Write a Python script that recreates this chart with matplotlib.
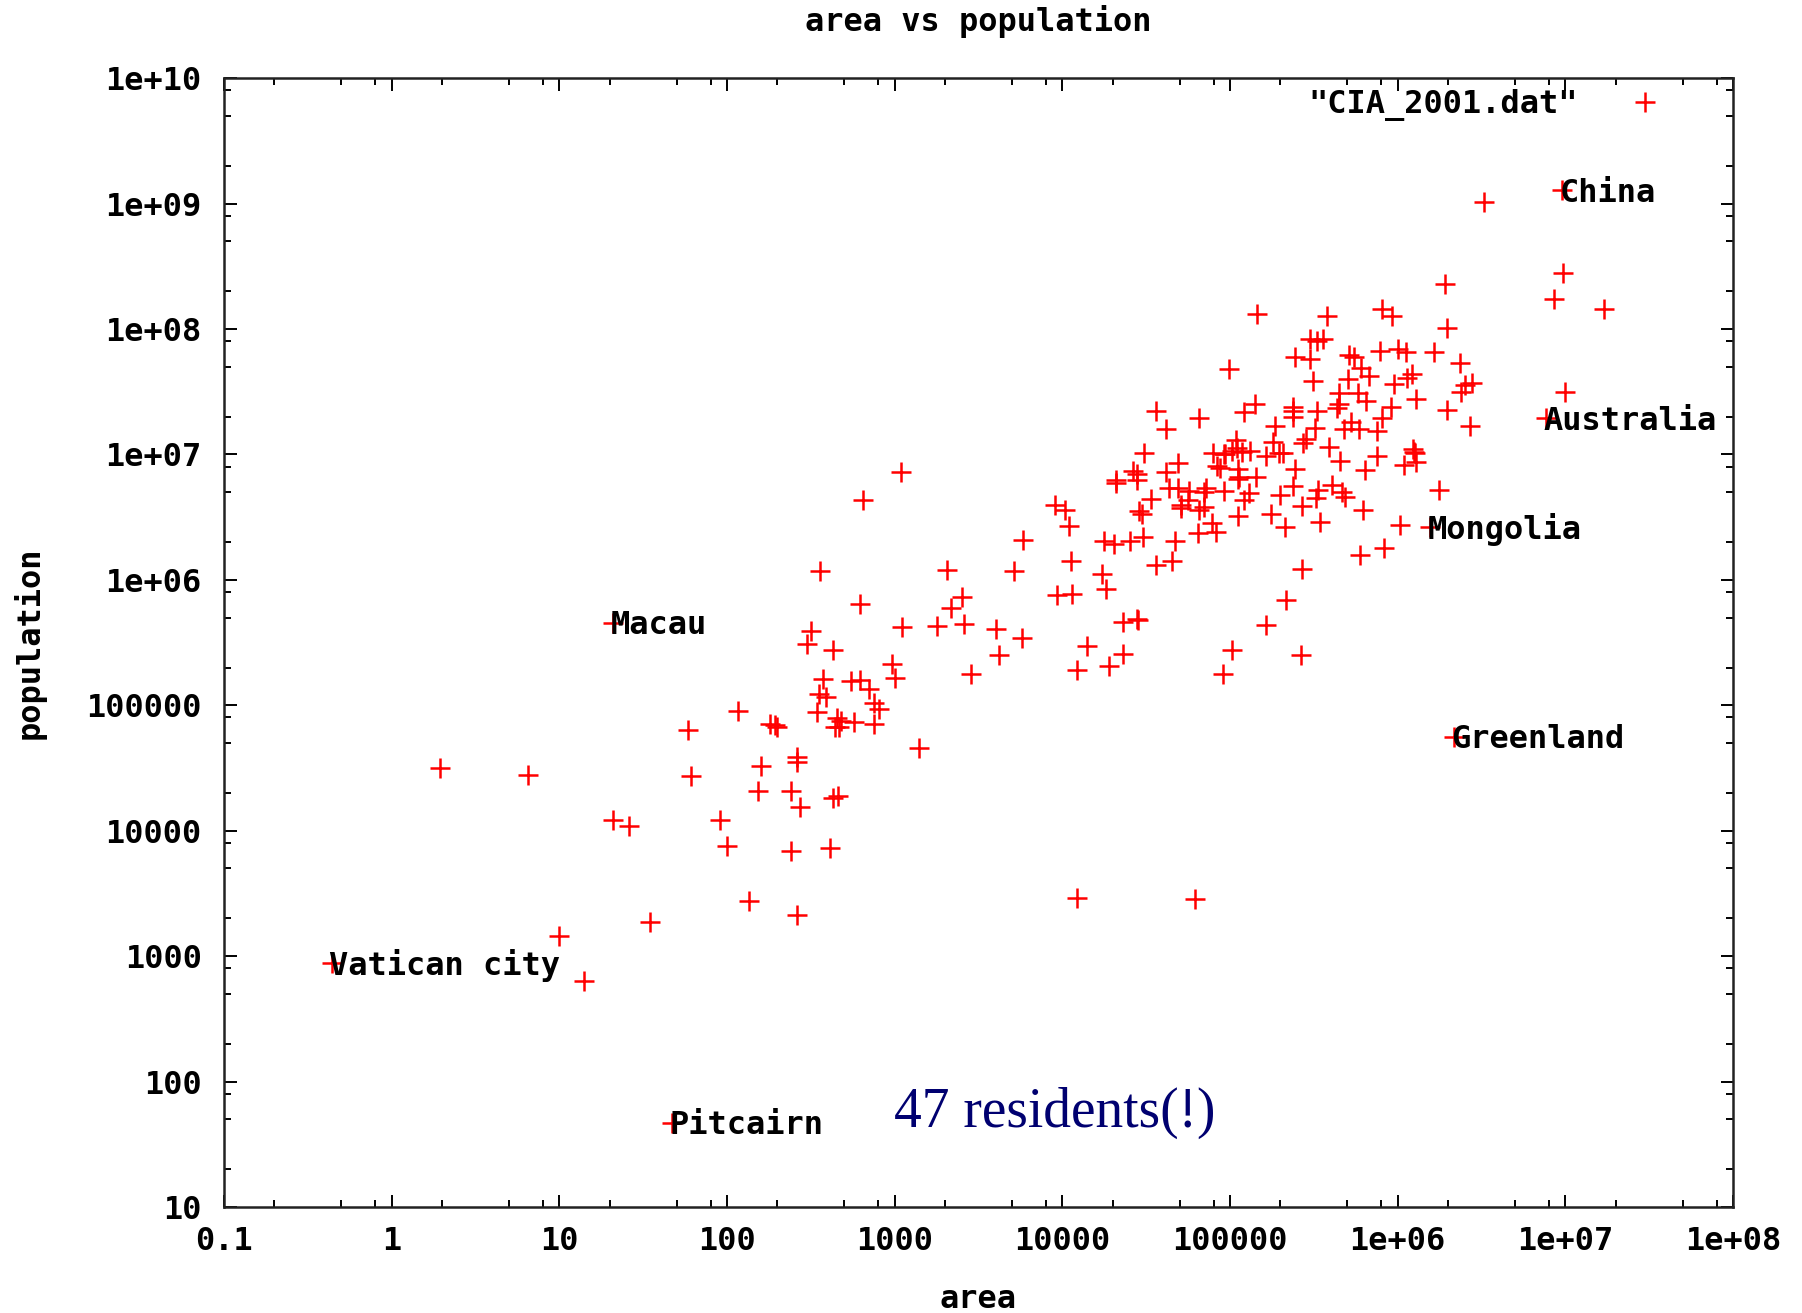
"""Area vs population scatter (CIA World Factbook 2001), gnuplot look."""

import matplotlib
matplotlib.use("Agg")
import matplotlib.pyplot as plt
from matplotlib.ticker import FixedLocator, FuncFormatter

countries = [
    "Afghanistan", "Albania", "Algeria", "American Samoa", "Andorra", "Angola",
    "Anguilla", "Antigua and Barbuda", "Argentina", "Armenia", "Aruba", "Australia",
    "Austria", "Azerbaijan", "Bahamas", "Bahrain", "Bangladesh", "Barbados",
    "Belarus", "Belgium", "Belize", "Benin", "Bermuda", "Bhutan",
    "Bolivia", "Bosnia", "Botswana", "Brazil", "British Virgin Islands", "Brunei",
    "Bulgaria", "Burkina Faso", "Burma", "Burundi", "Cambodia", "Cameroon",
    "Canada", "Cape Verde", "Cayman Islands", "Central African Rep.", "Chad", "Chile",
    "China", "Christmas Island", "Cocos Islands", "Colombia", "Comoros", "Congo DR",
    "Congo Rep.", "Cook Islands", "Costa Rica", "Cote d'Ivoire", "Croatia", "Cuba",
    "Cyprus", "Czech Republic", "Denmark", "Djibouti", "Dominica", "Dominican Rep.",
    "Ecuador", "Egypt", "El Salvador", "Equatorial Guinea", "Eritrea", "Estonia",
    "Ethiopia", "Falkland Islands", "Faroe Islands", "Fiji", "Finland", "France",
    "French Guiana", "French Polynesia", "Gabon", "Gambia", "Gaza Strip", "Georgia",
    "Germany", "Ghana", "Gibraltar", "Greece", "Greenland", "Grenada",
    "Guadeloupe", "Guam", "Guatemala", "Guinea", "Guinea-Bissau", "Guyana",
    "Haiti", "Honduras", "Hong Kong", "Hungary", "Iceland", "India",
    "Indonesia", "Iran", "Iraq", "Ireland", "Isle of Man", "Israel",
    "Italy", "Jamaica", "Japan", "Jersey", "Jordan", "Kazakhstan",
    "Kenya", "Kiribati", "Korea North", "Korea South", "Kuwait", "Kyrgyzstan",
    "Laos", "Latvia", "Lebanon", "Lesotho", "Liberia", "Libya",
    "Liechtenstein", "Lithuania", "Luxembourg", "Macau", "Macedonia", "Madagascar",
    "Malawi", "Malaysia", "Maldives", "Mali", "Malta", "Marshall Islands",
    "Martinique", "Mauritania", "Mauritius", "Mayotte", "Mexico", "Micronesia",
    "Moldova", "Monaco", "Mongolia", "Montserrat", "Morocco", "Mozambique",
    "Namibia", "Nauru", "Nepal", "Netherlands", "Netherlands Antilles", "New Caledonia",
    "New Zealand", "Nicaragua", "Niger", "Nigeria", "Niue", "Norfolk Island",
    "Northern Mariana Islands", "Norway", "Oman", "Pakistan", "Palau", "Panama",
    "Papua New Guinea", "Paraguay", "Peru", "Philippines", "Pitcairn", "Poland",
    "Portugal", "Puerto Rico", "Qatar", "Reunion", "Romania", "Russia",
    "Rwanda", "Saint Helena", "Saint Kitts and Nevis", "Saint Lucia", "Saint Pierre", "Saint Vincent",
    "Samoa", "San Marino", "Sao Tome", "Saudi Arabia", "Senegal", "Seychelles",
    "Sierra Leone", "Singapore", "Slovakia", "Slovenia", "Solomon Islands", "Somalia",
    "South Africa", "Spain", "Sri Lanka", "Sudan", "Suriname", "Svalbard",
    "Swaziland", "Sweden", "Switzerland", "Syria", "Taiwan", "Tajikistan",
    "Tanzania", "Thailand", "Togo", "Tokelau", "Tonga", "Trinidad and Tobago",
    "Tunisia", "Turkey", "Turkmenistan", "Turks and Caicos", "Tuvalu", "Uganda",
    "Ukraine", "United Arab Emirates", "United Kingdom", "United States", "Uruguay", "Uzbekistan",
    "Vanuatu", "Vatican city", "Venezuela", "Vietnam", "Virgin Islands", "Wallis and Futuna",
    "West Bank", "Western Sahara", "Yemen", "Yugoslavia", "Zambia", "Zimbabwe",
]

# area in km^2
area = [
    647500, 28748, 2381740, 199, 468, 1246700,
    91, 442, 2766890, 29800, 193, 7686850,
    83858, 86600, 13940, 620, 144000, 430,
    207600, 30510, 22966, 112620, 58.8, 47000,
    1098580, 51129, 600370, 8511965, 153, 5770,
    110910, 274200, 678500, 27830, 181040, 475440,
    9976140, 4033, 262, 622984, 1284000, 756950,
    9596960, 135, 14, 1138910, 2170, 2345410,
    342000, 240, 51100, 322460, 56542, 110860,
    9250, 78866, 43094, 23000, 754, 48730,
    283560, 1001450, 21040, 28051, 121320, 45226,
    1127127, 12173, 1399, 18270, 337030, 547030,
    91000, 4167, 267667, 11300, 360, 69700,
    357021, 238540, 6.5, 131940, 2166086, 344,
    1780, 549, 108890, 245857, 36120, 214970,
    27750, 112090, 1092, 93030, 103000, 3287590,
    1919440, 1648000, 437072, 70280, 572, 20770,
    301230, 10991, 377835, 116, 92300, 2717300,
    582650, 811, 120540, 98480, 17820, 198500,
    236800, 64589, 10400, 30355, 111370, 1759540,
    160, 65200, 2586, 21, 25333, 587040,
    118480, 329750, 300, 1240000, 316, 181.3,
    1100, 1030700, 2040, 374, 1972550, 702,
    33843, 1.95, 1565000, 100, 446550, 801590,
    825418, 21, 140800, 41526, 960, 19060,
    268680, 129494, 1267000, 923768, 260, 34.6,
    477, 324220, 212460, 803940, 458, 78200,
    462840, 406750, 1285220, 300000, 47, 312685,
    92391, 9104, 11437, 2512, 237500, 17075200,
    26338, 410, 261, 620, 242, 389,
    2860, 61.2, 1001, 1960582, 196190, 455,
    71740, 647.5, 48845, 20273, 28450, 637657,
    1219912, 504782, 65610, 2505810, 163270, 62049,
    17363, 449964, 41290, 185180, 35980, 143100,
    945087, 514000, 56785, 10, 748, 5128,
    163610, 780580, 488100, 430, 26, 236040,
    603700, 82880, 244820, 9629091, 176220, 447400,
    12200, 0.44, 912050, 329560, 352, 274,
    5860, 266000, 527970, 102350, 752614, 390580,
]

population = [
    26813057, 3510484, 31736053, 67084, 67627, 10366031,
    12132, 66970, 37384816, 3336100, 70007, 19357594,
    8150835, 7771092, 297852, 645361, 131269860, 275330,
    10350194, 10258762, 256062, 6590782, 63503, 2049412,
    8300463, 3922205, 1586119, 174468575, 20812, 343653,
    7707495, 12272289, 41994678, 6223897, 12491501, 15803220,
    31592805, 405163, 35527, 3576884, 8707078, 15328467,
    1273111290, 2771, 633, 40349388, 596202, 53624718,
    2894336, 20611, 3773057, 16393221, 4334142, 11184023,
    762887, 10264212, 5352815, 460700, 70786, 8581477,
    13183978, 69536644, 6237662, 486060, 4298269, 1423316,
    65891874, 2895, 45661, 844330, 5175783, 59551227,
    177562, 253506, 1221175, 1411205, 1178119, 4989285,
    83029536, 19894014, 27649, 10623835, 56352, 89227,
    431170, 157557, 12974361, 7613870, 1315822, 697181,
    6964549, 6406052, 7210505, 10106017, 277906, 1029991145,
    228437870, 66128965, 23331985, 3840838, 73489, 5938093,
    57679825, 2665636, 126771662, 89775, 5153378, 16731303,
    30765916, 94149, 21968228, 47904370, 2041961, 4753003,
    5635967, 2385231, 3627774, 2177062, 3225837, 5240599,
    32528, 3610535, 442972, 453733, 2046209, 15982563,
    10548250, 22229040, 310764, 11008518, 394583, 70822,
    418454, 2747312, 1189825, 163366, 101879171, 134597,
    4431570, 31693, 2654999, 7574, 30645305, 19371057,
    1797677, 12088, 25284463, 15981472, 212226, 204863,
    3864129, 4918393, 10355156, 126635626, 2124, 1879,
    74612, 4503440, 2622198, 144616639, 19092, 2845647,
    5049055, 5734139, 27483864, 82841518, 47, 38633912,
    10066253, 3937316, 769152, 732570, 22364022, 145470197,
    7312756, 7266, 38756, 158178, 6928, 115942,
    179058, 27336, 165034, 22757092, 10284929, 79326,
    5426618, 4300419, 5414937, 1930132, 480442, 7488773,
    43586097, 40037995, 19408635, 36080373, 433998, 2868,
    1104343, 8875053, 7283274, 16728808, 22370461, 6578681,
    36232074, 61797751, 5153088, 1445, 104227, 1169682,
    9705102, 66493970, 4603244, 18122, 10991, 23985712,
    48760474, 2407460, 59647790, 278058881, 3360105, 25155064,
    192910, 890, 23916810, 79939014, 122211, 15435,
    2090713, 250559, 18078035, 10677290, 9770199, 11365366,
]

labelled = ["China", "Australia", "Mongolia", "Greenland", "Macau",
            "Vatican city", "Pitcairn"]

x_ticks = [0.1, 1, 10, 100, 1000, 10000, 100000, 1e6, 1e7, 1e8]
y_ticks = [10, 100, 1000, 10000, 100000, 1e6, 1e7, 1e8, 1e9, 1e10]

MONO = "DejaVu Sans Mono"
FS = 23

fig = plt.figure(figsize=(18.02, 13.13), dpi=100)
ax = fig.add_axes([0.1243, 0.0807, 0.8374, 0.8598])

ax.plot(area, population, linestyle="none", marker="+", color="#ff0000",
        markersize=14, markeredgewidth=1.8, label='"CIA_2001.dat"')

ax.set_xscale("log")
ax.set_yscale("log")
ax.set_xlim(0.1, 1e8)
ax.set_ylim(10, 1e10)

# gnuplot-style ticks: majors at decades, minors at 2, 5, 8
minors_x = [m * 10.0 ** k for k in range(-1, 8) for m in (2, 5, 8)]
minors_y = [m * 10.0 ** k for k in range(1, 10) for m in (2, 5, 8)]
ax.xaxis.set_major_locator(FixedLocator(x_ticks))
ax.yaxis.set_major_locator(FixedLocator(y_ticks))
ax.xaxis.set_minor_locator(FixedLocator(minors_x))
ax.yaxis.set_minor_locator(FixedLocator(minors_y))
fmt = FuncFormatter(lambda v, p: "%g" % v)
ax.xaxis.set_major_formatter(fmt)
ax.yaxis.set_major_formatter(fmt)

ax.tick_params(which="both", direction="in", top=True, right=True, width=1.4)
ax.tick_params(which="major", length=9)
ax.tick_params(which="minor", length=5)
ax.tick_params(axis="x", which="major", pad=14)
ax.tick_params(axis="y", which="major", pad=16)
for lab in ax.get_xticklabels() + ax.get_yticklabels():
    lab.set_fontfamily(MONO)
    lab.set_fontweight("bold")
    lab.set_fontsize(FS)

for s in ax.spines.values():
    s.set_linewidth(1.8)
    s.set_color("#222222")

ax.set_title("area vs population", fontfamily=MONO, fontweight="bold",
             fontsize=FS, pad=34)
ax.set_xlabel("area", fontfamily=MONO, fontweight="bold", fontsize=FS)
ax.set_ylabel("population", fontfamily=MONO, fontweight="bold", fontsize=FS)
ax.xaxis.set_label_coords(0.5, -0.068)
ax.yaxis.set_label_coords(-0.118, 0.5)

for name in labelled:
    i = countries.index(name)
    ax.annotate(name, xy=(area[i], population[i]), xytext=(-2, -2),
                textcoords="offset points", ha="left", va="center",
                fontfamily=MONO, fontweight="bold", fontsize=FS)

ax.text(0.444, 0.071, "47 residents(!)", transform=ax.transAxes,
        ha="left", va="baseline", fontfamily="Liberation Serif",
        fontsize=40, color="#000070")

leg = ax.legend(loc="center right", bbox_to_anchor=(1.0, 0.976),
                frameon=False, markerfirst=False, borderaxespad=0,
                borderpad=1.75, handlelength=2, handletextpad=1.1,
                prop={"family": MONO, "weight": "bold", "size": FS})

fig.savefig("out.png", dpi=100)
